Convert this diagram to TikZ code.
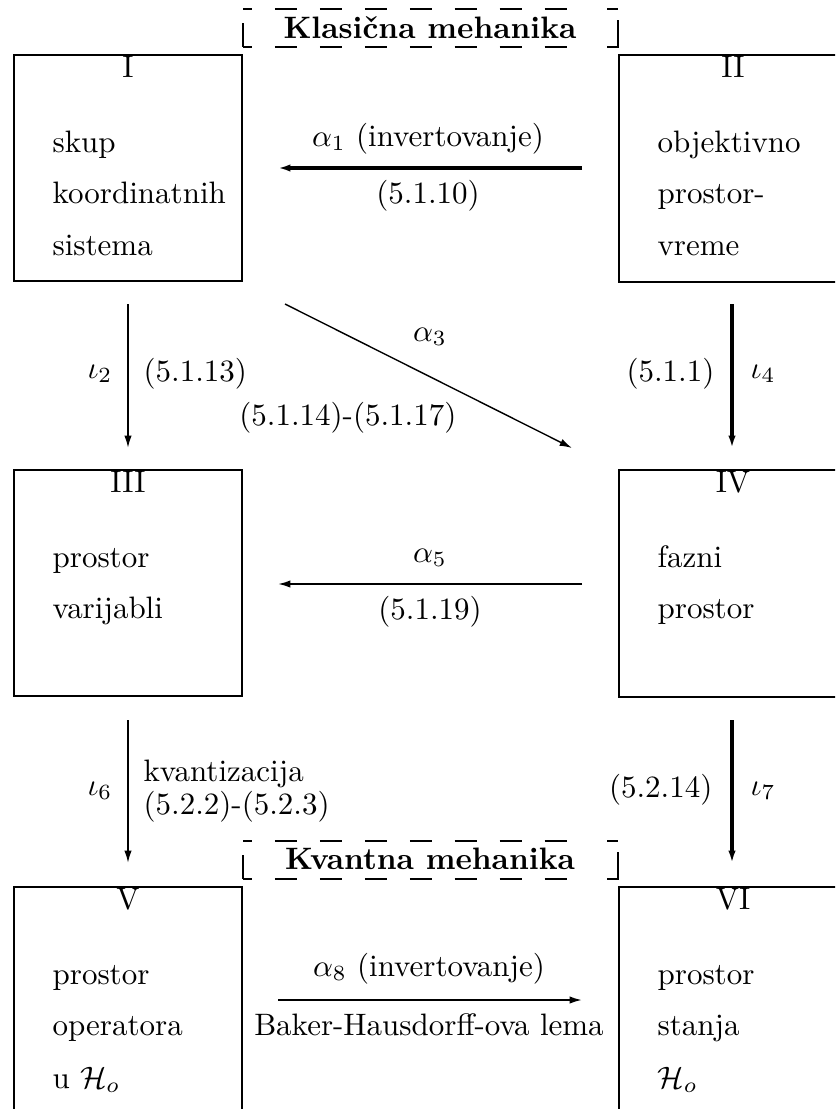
\documentclass[tikz,border=0pt]{standalone}
\usetikzlibrary{arrows.meta}

\tikzset{
  frame/.style={line width=0.8pt},
  heavy/.style={line width=1.2pt,-{Latex[length=4pt,width=2.4pt]}},
  light/.style={line width=0.6pt,-{Latex[length=4pt,width=2.4pt]}},
  hair/.style={line width=0.45pt,-{Latex[length=4pt,width=2.4pt]}},
  dashside/.style={line width=0.75pt,dash pattern=on 7.1pt off 7.4pt,dash phase=4.2pt},
  txt/.style={anchor=base west,inner sep=0pt},
  mid/.style={anchor=base,inner sep=0pt},
}

\begin{document}
\begin{tikzpicture}[x=0.3226pt,y=0.3226pt,yscale=-1,xscale=1]
\clip (0,0) rectangle (835,1109);

%Shape: Dashed frame (top)
\draw [dashside] (243,9) -- (586,9) ;
\draw [dashside] (243,47) -- (586,47) ;
\draw [dashside,solid] (243,23) -- (243,47) ;
\draw [dashside,solid] (607,9) -- (618,9) ;
\draw [dashside,solid] (607,47) -- (618,47) -- (618,20) ;
\node (klas) [mid] at (430,38) {\bfseries Klasi\v{c}na mehanika};

%Shape: Rectangle I
\draw [frame] (14,55) rectangle (242,281) ;
\node (nI) [mid] at (128,77) {I};
\node (sk1) [txt] at (52,152) {skup};
\node (sk2) [txt] at (52,203.5) {koordinatnih};
\node (sk3) [txt] at (52,255) {sistema};
%Shape: Rectangle II
\draw [frame] (619,55) rectangle (850,282) ;
\node (nII) [mid] at (733,77) {II};
\node (ob1) [txt] at (657,152) {objektivno};
\node (ob2) [txt] at (657,203.5) {prostor-};
\node (ob3) [txt] at (657,255) {vreme};

%Straight Lines alpha_1
\coordinate (a1from) at (582,168);
\coordinate (a1to) at (278,168);
\draw [heavy] (a1from) -- (a1to) ;
\node (a1up) [mid] at (428,146) {$\alpha_1$ (invertovanje)};
\node (a1dn) [mid] at (428,203) {(5.1.10)};

%Straight Lines iota_2
\coordinate (i2from) at (128,304);
\coordinate (i2to) at (128,448);
\draw [light] (i2from) -- (i2to) ;
\node (i2l) [anchor=base east,inner sep=0pt] at (113,378) {$\iota_2$};
\node (i2r) [txt] at (143,381) {(5.1.13)};

%Straight Lines alpha_3
\coordinate (a3from) at (285,304);
\coordinate (a3to) at (572,448);
\draw [hair] (a3from) -- (a3to) ;
\node (a3up) [mid] at (430,341) {$\alpha_3$};
\node (a3dn) [anchor=base east,inner sep=0pt] at (457,425) {(5.1.14)-(5.1.17)};

%Straight Lines iota_4
\coordinate (i4from) at (732,304);
\coordinate (i4to) at (732,448);
\draw [heavy] (i4from) -- (i4to) ;
\node (i4l) [anchor=base east,inner sep=0pt] at (715,381) {(5.1.1)};
\node (i4r) [txt] at (750,378) {$\iota_4$};

%Shape: Rectangle III
\draw [frame] (14,470) rectangle (242,696) ;
\node (nIII) [mid] at (128,492) {III};
\node (pv1) [txt] at (52,567) {prostor};
\node (pv2) [txt] at (52,618.5) {varijabli};
%Shape: Rectangle IV
\draw [frame] (619,470) rectangle (850,697) ;
\node (nIV) [mid] at (733,492) {IV};
\node (fp1) [txt] at (657,567) {fazni};
\node (fp2) [txt] at (657,618.5) {prostor};

%Straight Lines alpha_5
\coordinate (a5from) at (582,584);
\coordinate (a5to) at (278,584);
\draw [light] (a5from) -- (a5to) ;
\node (a5up) [mid] at (430,562) {$\alpha_5$};
\node (a5dn) [mid] at (430,619) {(5.1.19)};

%Straight Lines iota_6
\coordinate (i6from) at (128,720);
\coordinate (i6to) at (128,863);
\draw [light] (i6from) -- (i6to) ;
\node (i6l) [anchor=base east,inner sep=0pt] at (113,795) {$\iota_6$};
\node (i6r1) [txt] at (143,781) {kvantizacija};
\node (i6r2) [txt] at (143,814) {(5.2.2)-(5.2.3)};

%Straight Lines iota_7
\coordinate (i7from) at (732,720);
\coordinate (i7to) at (732,863);
\draw [heavy] (i7from) -- (i7to) ;
\node (i7l) [anchor=base east,inner sep=0pt] at (713,797) {(5.2.14)};
\node (i7r) [txt] at (750,795) {$\iota_7$};

%Shape: Dashed frame (bottom)
\draw [dashside] (243,841) -- (586,841) ;
\draw [dashside] (243,879) -- (586,879) ;
\draw [dashside,solid] (243,855) -- (243,879) ;
\draw [dashside,solid] (607,841) -- (618,841) ;
\draw [dashside,solid] (607,879) -- (618,879) -- (618,852) ;
\node (kvant) [mid] at (430,869) {\bfseries Kvantna mehanika};

%Shape: Rectangle V
\draw [frame] (14,887) rectangle (242,1130) ;
\node (nV) [mid] at (128,909) {V};
\node (po1) [txt] at (52,984) {prostor};
\node (po2) [txt] at (52,1035.5) {operatora};
\node (po3) [txt] at (52,1088) {u $\mathcal{H}_o$};
%Shape: Rectangle VI
\draw [frame] (619,887) rectangle (850,1130) ;
\node (nVI) [mid] at (733,909) {VI};
\node (ps1) [txt] at (657,984) {prostor};
\node (ps2) [txt] at (657,1035.5) {stanja};
\node (ps3) [txt] at (657,1088) {$\mathcal{H}_o$};

%Straight Lines alpha_8
\coordinate (a8from) at (278,1000);
\coordinate (a8to) at (582,1000);
\draw [light] (a8from) -- (a8to) ;
\node (a8up) [mid] at (429,976) {$\alpha_8$ (invertovanje)};
\node (a8dn) [mid] at (429,1035) {Baker-Hausdorff-ova lema};

\end{tikzpicture}
\end{document}
